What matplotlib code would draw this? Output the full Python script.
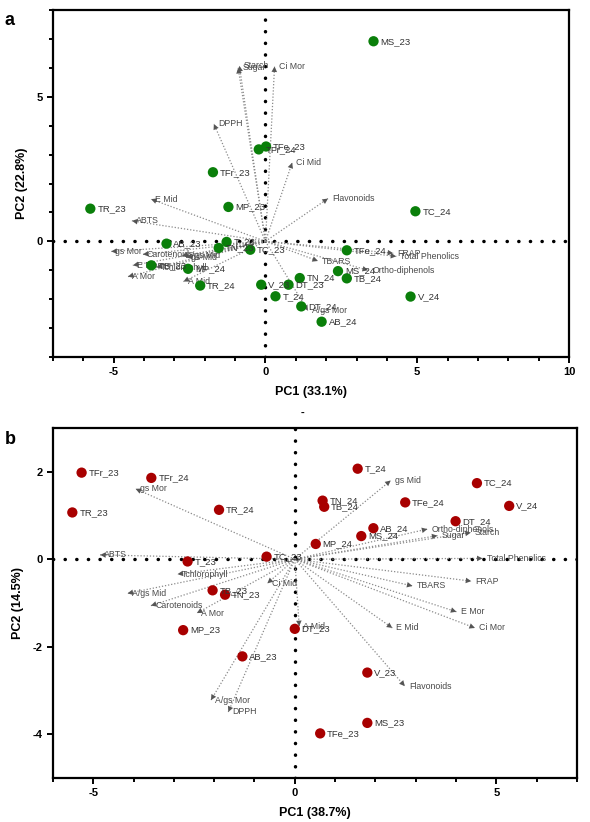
import matplotlib
matplotlib.use("Agg")
import matplotlib.pyplot as plt
from matplotlib.ticker import MultipleLocator

plt.rcParams['font.family'] = ['Liberation Sans', 'DejaVu Sans']
plt.rcParams['axes.unicode_minus'] = False

# ---- panel a data ----
a_samples = ['MS_23', 'TFe_23', 'TFr_24', 'TFr_23', 'TR_23', 'MP_23', 'AB_23', 'T_23',
             'TN_23', 'TC_23', 'TB_23', 'MP_24', 'TR_24', 'V_23', 'T_24', 'DT_23',
             'TN_24', 'DT_24', 'TC_24', 'TFe_24', 'MS_24', 'TB_24', 'AB_24', 'V_24']
a_pc1 = [3.56, 0.02, -0.22, -1.73, -5.77, -1.22, -3.26, -1.28,
         -1.54, -0.50, -3.76, -2.55, -2.15, -0.14, 0.33, 0.76,
         1.13, 1.18, 4.94, 2.68, 2.39, 2.68, 1.85, 4.78]
a_pc2 = [6.92, 3.28, 3.18, 2.39, 1.13, 1.19, -0.08, -0.02,
         -0.23, -0.29, -0.83, -0.95, -1.53, -1.50, -1.90, -1.50,
         -1.27, -2.25, 1.04, -0.31, -1.03, -1.28, -2.78, -1.91]

a_vars = ['Starch', 'Sugar', 'Ci Mor', 'DPPH', 'Ci Mid', 'Flavonoids', 'E Mid', 'ABTS',
          'gs Mor', 'Carotenoids', 'E Mor', 'Tchlorophyll', 'A Mor', 'A/gs Mid', 'gs Mid',
          'A Mid', 'FRAP', 'Total Phenolics', 'TBARS', 'Ortho-diphenols', 'A/gs Mor']
a_load1 = [-0.86, -0.90, 0.30, -1.70, 0.88, 2.06, -3.77, -4.40,
           -5.08, -4.04, -4.37, -3.60, -4.53, -2.75, -2.60,
           -2.70, 4.21, 4.31, 1.73, 3.38, 1.40]
a_load2 = [6.07, 6.00, 6.05, 4.06, 2.72, 1.48, 1.46, 0.71,
           -0.35, -0.45, -0.83, -0.90, -1.22, -0.50, -0.56,
           -1.39, -0.41, -0.52, -0.68, -1.00, -2.40]

# ---- panel b data ----
b_samples = ['TFr_23', 'TFr_24', 'TR_23', 'TR_24', 'T_23', 'TC_23', 'TB_23', 'TN_23',
             'MP_23', 'AB_23', 'DT_23', 'TFe_23', 'V_23', 'MS_23', 'T_24', 'TC_24',
             'TN_24', 'TB_24', 'TFe_24', 'V_24', 'DT_24', 'AB_24', 'MS_24', 'MP_24']
b_pc1 = [-5.29, -3.56, -5.52, -1.88, -2.66, -0.70, -2.04, -1.73,
         -2.77, -1.30, 0.00, 0.63, 1.80, 1.80, 1.56, 4.52,
         0.69, 0.73, 2.74, 5.32, 3.99, 1.95, 1.65, 0.52]
b_pc2 = [1.98, 1.86, 1.07, 1.13, -0.05, 0.06, -0.71, -0.81,
         -1.62, -2.22, -1.59, -3.98, -2.59, -3.74, 2.07, 1.74,
         1.34, 1.20, 1.30, 1.22, 0.87, 0.71, 0.53, 0.35]

b_vars = ['gs Mor', 'ABTS', 'Tchlorophyll', 'A/gs Mid', 'Carotenoids', 'A Mor', 'Ci Mid',
          'A Mid', 'A/gs Mor', 'DPPH', 'gs Mid', 'Ortho-diphenols', 'Sugar', 'Starch',
          'Total Phenolics', 'FRAP', 'TBARS', 'E Mor', 'Ci Mor', 'E Mid', 'Flavonoids']
b_load1 = [-3.95, -4.83, -2.91, -4.15, -3.57, -2.43, -0.68,
           0.11, -2.08, -1.65, 2.38, 3.29, 3.54, 4.37,
           4.66, 4.38, 2.92, 4.01, 4.47, 2.42, 2.73]
b_load2 = [1.61, 0.10, -0.34, -0.78, -1.06, -1.23, -0.55,
           -1.53, -3.22, -3.49, 1.80, 0.69, 0.54, 0.61,
           0.02, -0.50, -0.61, -1.20, -1.57, -1.57, -2.90]


def biplot(ax, samples, pc1, pc2, vars_, l1, l2, dot_color, xlim, ylim):
    ax.set_xlim(*xlim)
    ax.set_ylim(*ylim)
    # zero lines, big round dots
    ax.axhline(0, color='black', lw=2.5, linestyle=(0, (0.05, 3.3)),
               dash_capstyle='round', zorder=1)
    ax.axvline(0, color='black', lw=2.5, linestyle=(0, (0.05, 3.3)),
               dash_capstyle='round', zorder=1)

    # loading vectors
    for name, x, y in zip(vars_, l1, l2):
        ax.plot([0, x], [0, y], color='#8a8a8a', lw=0.9, linestyle=(0, (1, 1.5)), zorder=2)
        ax.annotate('', xy=(x, y), xytext=(x * 0.97, y * 0.97),
                    arrowprops=dict(arrowstyle='-|>', color='#555555', lw=0,
                                    mutation_scale=10, shrinkA=0, shrinkB=0), zorder=3)
        ax.annotate(name, (x, y), xytext=(3, 0), textcoords='offset points',
                    fontsize=6.3, color='#4a4a4a', va='center', ha='left', zorder=3)

    # scores
    ax.scatter(pc1, pc2, s=55, color=dot_color, edgecolor='none', zorder=4)
    for name, x, y in zip(samples, pc1, pc2):
        ax.annotate(name, (x, y), xytext=(5, 0), textcoords='offset points',
                    fontsize=6.8, color='#333333', va='center', ha='left', zorder=5)

    for s in ax.spines.values():
        s.set_linewidth(1.6)
    ax.tick_params(which='both', direction='out', width=1.4, labelsize=8)
    ax.tick_params(which='major', length=4)
    ax.tick_params(which='minor', length=3)
    for lab in ax.get_xticklabels() + ax.get_yticklabels():
        lab.set_fontweight('bold')


fig = plt.figure(figsize=(5.9, 8.22), dpi=100)

ax1 = fig.add_axes([0.0898, 0.5657, 0.8746, 0.4221])
ax1.xaxis.set_major_locator(MultipleLocator(5))
ax1.xaxis.set_minor_locator(MultipleLocator(1))
ax1.yaxis.set_major_locator(MultipleLocator(5))
ax1.yaxis.set_minor_locator(MultipleLocator(1))
biplot(ax1, a_samples, a_pc1, a_pc2, a_vars, a_load1, a_load2, '#0a7f0a', (-7, 10), (-4, 8))
ax1.set_xlabel('PC1 (33.1%)', fontsize=9, fontweight='bold', labelpad=6)
ax1.set_ylabel('PC2 (22.8%)', fontsize=9, fontweight='bold', labelpad=6)

ax2 = fig.add_axes([0.0898, 0.0535, 0.888, 0.4258])
ax2.xaxis.set_major_locator(MultipleLocator(5))
ax2.xaxis.set_minor_locator(MultipleLocator(1))
ax2.yaxis.set_major_locator(MultipleLocator(2))
biplot(ax2, b_samples, b_pc1, b_pc2, b_vars, b_load1, b_load2, '#a80000', (-6, 7), (-5, 3))
ax2.set_xlabel('PC1 (38.7%)', fontsize=9, fontweight='bold', labelpad=6)
ax2.set_ylabel('PC2 (14.5%)', fontsize=9, fontweight='bold', labelpad=6)

fig.text(0.008, 0.985, 'a', fontsize=13, fontweight='bold', va='top')
fig.text(0.008, 0.476, 'b', fontsize=13, fontweight='bold', va='top')
fig.text(0.513, 0.494, '-', fontsize=8, fontweight='bold', ha='center')

fig.savefig('out.png', dpi=100)
